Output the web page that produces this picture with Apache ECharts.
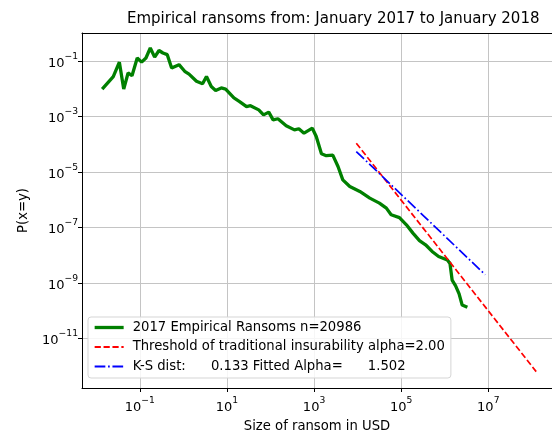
<!DOCTYPE html>
<html>
<head>
<meta charset="utf-8">
<script src="https://cdn.jsdelivr.net/npm/echarts@6/dist/echarts.min.js"></script>
<style>
  html, body { margin: 0; padding: 0; background: #fff; }
  #chart { width: 552px; height: 437px; }
</style>
</head>
<body>
<div id="chart"></div>
<script>
var empiricalLogX = [-1.865, -1.61, -1.47, -1.37, -1.27, -1.18, -1.06, -0.96, -0.86, -0.76, -0.66, -0.56, -0.47, -0.37, -0.27, -0.10, 0.03, 0.13, 0.30, 0.44, 0.53, 0.64, 0.74, 0.87, 0.97, 1.16, 1.29, 1.45, 1.54, 1.73, 1.84, 1.96, 2.06, 2.17, 2.36, 2.55, 2.65, 2.77, 2.96, 3.05, 3.17, 3.28, 3.43, 3.55, 3.66, 3.82, 4.05, 4.28, 4.50, 4.66, 4.77, 4.96, 5.12, 5.27, 5.42, 5.56, 5.71, 5.86, 6.06, 6.12, 6.17, 6.25, 6.33, 6.40, 6.52]
var empiricalLogY = [-2.02, -1.57, -1.05, -2.02, -1.44, -1.54, -0.90, -1.05, -0.90, -0.54, -0.87, -0.63, -0.72, -0.78, -1.26, -1.14, -1.38, -1.48, -1.74, -1.83, -1.57, -1.93, -2.07, -1.98, -2.02, -2.34, -2.47, -2.65, -2.62, -2.77, -2.95, -2.85, -3.13, -3.09, -3.34, -3.49, -3.45, -3.61, -3.43, -3.73, -4.35, -4.42, -4.40, -4.81, -5.29, -5.53, -5.71, -5.95, -6.13, -6.31, -6.55, -6.65, -6.91, -7.21, -7.48, -7.63, -7.87, -8.05, -8.18, -8.30, -8.90, -9.11, -9.40, -9.80, -9.88]
var thresholdLogX = [3.97, 8.10]
var thresholdLogY = [-3.97, -12.20]
var fitLogX = [3.97, 6.93]
var fitLogY = [-4.27, -8.71]
var xTickExps = [-1, 1, 3, 5, 7]
var yTickExps = [-11, -9, -7, -5, -3, -1]

var seriesNames = ['2017 Empirical Ransoms n=20986', 'Threshold of traditional insurability alpha=2.00', 'K-S dist:      0.133 Fitted Alpha=      1.502']

function pairs(xs, ys) {
  return xs.map(function (x, i) { return [x, ys[i]] })
}

var font = 'DejaVu Sans'
var tickRich = {
  b: { fontSize: 13, fontFamily: font, color: '#000', verticalAlign: 'bottom', padding: [5, 0, 0, 0] },
  s: { fontSize: 9.2, fontFamily: font, color: '#000', verticalAlign: 'top' }
}
function powLabel(v) {
  var e = Math.round(v)
  return '{b|10}{s|' + String(e).replace('-', '\u2212') + '}'
}

// the plot frame runs past the right side of the picture, so no right border;
// the top border is drawn by a bare second x axis
var chart = echarts.init(document.getElementById('chart'))
chart.setOption({
  animation: false,
  title: {
    text: 'Empirical ransoms from: January 2017 to January 2018',
    left: 122, top: 7,
    textStyle: { fontFamily: font, fontSize: 15, fontWeight: 'normal', color: '#000' }
  },
  grid: { left: 82, top: 33, right: 0, bottom: 49, outerBoundsMode: 'none', containLabel: false },
  legend: {
    orient: 'vertical', left: 88, top: 317,
    padding: [4, 6, 5, 5], itemGap: 6.5, itemWidth: 29, itemHeight: 14,
    backgroundColor: 'rgba(255,255,255,0.85)', borderColor: '#d5d5d5', borderWidth: 1, borderRadius: 3,
    itemStyle: { opacity: 0 },
    textStyle: { fontFamily: font, fontSize: 13.2, color: '#000', padding: [0, 0, 0, 4] },
    data: [
      { name: seriesNames[0], lineStyle: { width: 3.3 } },
      { name: seriesNames[1] },
      { name: seriesNames[2] }
    ]
  },
  xAxis: [{
    type: 'value', min: -2.328, max: 8.463,
    name: 'Size of ransom in USD', nameLocation: 'middle', nameGap: 32,
    nameTextStyle: { fontFamily: font, fontSize: 13.2, color: '#000' },
    axisLine: { onZero: false, lineStyle: { color: '#000', width: 1 } },
    axisTick: { show: true, length: 4, lineStyle: { color: '#000' }, customValues: xTickExps },
    axisLabel: { customValues: xTickExps, margin: 8, formatter: powLabel, rich: tickRich },
    splitLine: { show: true, lineStyle: { color: '#c4c4c4', width: 1 } }
  }, {
    type: 'value', position: 'top', min: -2.328, max: 8.463,
    axisLine: { onZero: false, lineStyle: { color: '#000', width: 1 } },
    axisTick: { show: false }, axisLabel: { show: false }, splitLine: { show: false }
  }],
  yAxis: {
    type: 'value', min: -12.79, max: 0,
    name: 'P(x=y)', nameLocation: 'middle', nameGap: 52, nameRotate: 90,
    nameTextStyle: { fontFamily: font, fontSize: 13.2, color: '#000' },
    axisLine: { show: true, onZero: false, lineStyle: { color: '#000', width: 1 } },
    axisTick: { show: true, length: 4, lineStyle: { color: '#000' }, customValues: yTickExps },
    axisLabel: { customValues: yTickExps, margin: 4, formatter: powLabel, rich: tickRich },
    splitLine: { show: true, lineStyle: { color: '#c4c4c4', width: 1 } }
  },
  series: [
    {
      name: seriesNames[0], type: 'line', symbol: 'none',
      data: pairs(empiricalLogX, empiricalLogY),
      itemStyle: { color: '#008000' },
      lineStyle: { color: '#008000', width: 3.3 }
    },
    {
      name: seriesNames[1], type: 'line', symbol: 'none',
      data: pairs(thresholdLogX, thresholdLogY),
      itemStyle: { color: '#ff0000' },
      lineStyle: { color: '#ff0000', width: 1.7, type: [6.2, 2.7] }
    },
    {
      name: seriesNames[2], type: 'line', symbol: 'none',
      data: pairs(fitLogX, fitLogY),
      itemStyle: { color: '#0000ff' },
      lineStyle: { color: '#0000ff', width: 1.7, type: [10.7, 2.7, 1.7, 2.7] }
    }
  ]
})
</script>
</body>
</html>
